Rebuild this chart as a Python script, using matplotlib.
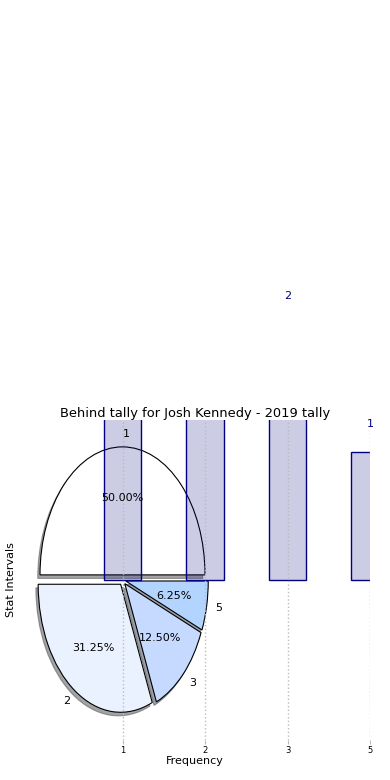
import numpy as np
import matplotlib
matplotlib.use('Agg')
import matplotlib.pyplot as plt

# behind tally per stat interval
intervals = ['1', '2', '3', '5']
counts = [8, 5, 2, 1]
pie_colors = ['white', '#ebf2ff', '#c6d9ff', '#b3d4ff']

fig = plt.figure(figsize=(3.9, 7.8), dpi=100)
ax = fig.add_axes([40 / 390, 40 / 780, 330 / 390, 320 / 780])

x = np.arange(len(intervals))

wedges, labels, pcts = ax.pie(counts, labels=intervals, colors=pie_colors, autopct='%.2f%%',
                              explode=[0.04] * len(counts), shadow=True, startangle=0,
                              wedgeprops={'edgecolor': 'black', 'linewidth': 0.8},
                              textprops={'fontsize': 8})
labels[0].set_ha('left')

ax.bar(x, counts, width=0.45, color=(0, 0, 0.5, 0.2), edgecolor='navy', linewidth=1)
for xi, c in zip(x, counts):
    ax.text(xi, c + 0.18, str(c), color='navy', ha='center', va='bottom', fontsize=8)

ax.set_aspect('auto')
ax.set_xlim(-1, 3)
ax.set_ylim(-1.25, 1.25)
ax.set_frame_on(False)
ax.set_xticks(x)
ax.set_xticklabels(intervals, fontsize=6)
ax.set_yticks([])
ax.tick_params(axis='x', colors='#bbbbbb', labelcolor='black', length=3, pad=1.5)
ax.set_axisbelow(False)
ax.grid(axis='x', linestyle=':', color='#bbbbbb', linewidth=1)

ax.set_title('Behind tally for Josh Kennedy - 2019 tally', fontsize=9.4, pad=2.5, x=0.47)
ax.set_xlabel('Frequency', fontsize=8, labelpad=0.5)
ax.xaxis.label.set_x(0.47)
ax.set_ylabel('Stat Intervals', fontsize=8)
ax.yaxis.set_label_coords(-0.073, 0.5)

plt.savefig('out.png')
